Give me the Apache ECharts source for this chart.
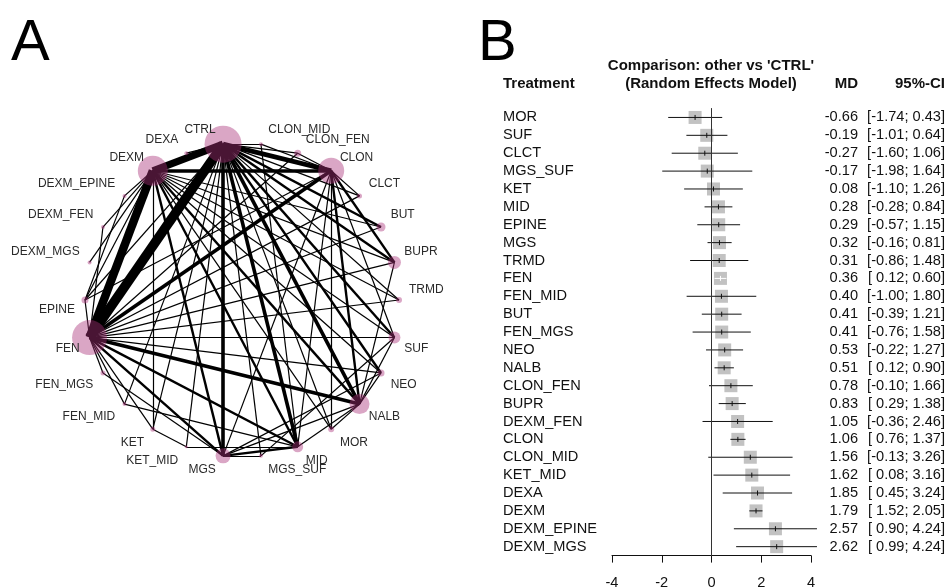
<!DOCTYPE html>
<html>
<head>
<meta charset="utf-8">
<script src="https://cdn.jsdelivr.net/npm/echarts@6/dist/echarts.min.js"></script>
<style>
  html, body { margin: 0; padding: 0; background: #fff; }
  #main { width: 948px; height: 588px; }
</style>
</head>
<body>
<div id="main"></div>
<script>
// network (panel A): nodes in circle order, clockwise starting at CTRL
var nodes = ['CTRL', 'CLON_MID', 'CLON_FEN', 'CLON', 'CLCT', 'BUT', 'BUPR', 'TRMD', 'SUF', 'NEO',
  'NALB', 'MOR', 'MID', 'MGS_SUF', 'MGS', 'KET_MID', 'KET', 'FEN_MID', 'FEN_MGS', 'FEN',
  'EPINE', 'DEXM_MGS', 'DEXM_FEN', 'DEXM_EPINE', 'DEXM', 'DEXA'];
// relative number of patients per treatment (circle area)
var nodePatients = [1370, 16, 49, 676, 25, 81, 169, 36, 144, 49,
  400, 36, 121, 16, 225, 9, 25, 16, 25, 1225,
  49, 16, 16, 16, 900, 16];
// direct comparisons: [a, b, number of studies]
var edges = [
  ['CTRL', 'FEN', 8], ['CTRL', 'DEXM', 6], ['CTRL', 'CLON', 4], ['CTRL', 'MGS', 3],
  ['CTRL', 'NALB', 3], ['CTRL', 'MID', 3], ['CTRL', 'DEXA', 1], ['CTRL', 'CLON_FEN', 1],
  ['CTRL', 'CLON_MID', 1], ['CTRL', 'CLCT', 1], ['CTRL', 'BUT', 2], ['CTRL', 'BUPR', 2],
  ['CTRL', 'TRMD', 1], ['CTRL', 'SUF', 2], ['CTRL', 'NEO', 2], ['CTRL', 'MOR', 1],
  ['CTRL', 'KET', 1], ['CTRL', 'KET_MID', 1], ['CTRL', 'FEN_MID', 1], ['CTRL', 'EPINE', 1],
  ['CTRL', 'MGS_SUF', 1],
  ['DEXM', 'FEN', 7], ['DEXM', 'CLON', 3], ['DEXM', 'DEXM_EPINE', 1], ['DEXM', 'DEXM_FEN', 1],
  ['DEXM', 'DEXM_MGS', 1], ['DEXM', 'EPINE', 1], ['DEXM', 'NALB', 2], ['DEXM', 'MID', 2],
  ['DEXM', 'MGS', 2], ['DEXM', 'BUT', 1], ['DEXM', 'SUF', 1], ['DEXM', 'BUPR', 1],
  ['DEXM', 'KET', 1], ['DEXM', 'NEO', 1], ['DEXM', 'TRMD', 1], ['DEXM', 'MOR', 1],
  ['CLON', 'FEN', 3], ['CLON', 'CLON_MID', 1], ['CLON', 'CLON_FEN', 1], ['CLON', 'BUPR', 2],
  ['CLON', 'MOR', 1], ['CLON', 'NALB', 2], ['CLON', 'MID', 1], ['CLON', 'SUF', 1],
  ['CLON', 'MGS', 1], ['CLON', 'CLCT', 1],
  ['FEN', 'NALB', 3], ['FEN', 'MID', 2], ['FEN', 'MGS', 2], ['FEN', 'FEN_MGS', 1],
  ['FEN', 'FEN_MID', 1], ['FEN', 'KET', 1], ['FEN', 'EPINE', 1], ['FEN', 'DEXM_FEN', 1],
  ['FEN', 'BUT', 1], ['FEN', 'BUPR', 1], ['FEN', 'TRMD', 1], ['FEN', 'SUF', 1],
  ['FEN', 'NEO', 1], ['FEN', 'CLCT', 1], ['FEN', 'CLON_FEN', 1],
  ['NALB', 'MID', 1], ['NALB', 'MGS', 1], ['NALB', 'NEO', 1], ['NALB', 'SUF', 1],
  ['NALB', 'MOR', 1], ['NALB', 'BUPR', 1],
  ['MGS', 'MID', 2], ['MGS', 'MGS_SUF', 1], ['MGS', 'NEO', 1], ['MGS', 'FEN_MGS', 1],
  ['MID', 'KET_MID', 1], ['MID', 'FEN_MID', 1], ['MID', 'CLON_MID', 1],
  ['KET', 'KET_MID', 1], ['EPINE', 'DEXM_EPINE', 1], ['EPINE', 'CLON', 1], ['SUF', 'MGS_SUF', 1]
];

// forest plot (panel B)
var treatments = ['MOR', 'SUF', 'CLCT', 'MGS_SUF', 'KET', 'MID', 'EPINE', 'MGS', 'TRMD', 'FEN',
  'FEN_MID', 'BUT', 'FEN_MGS', 'NEO', 'NALB', 'CLON_FEN', 'BUPR', 'DEXM_FEN', 'CLON', 'CLON_MID',
  'KET_MID', 'DEXA', 'DEXM', 'DEXM_EPINE', 'DEXM_MGS'];
var md = [-0.66, -0.19, -0.27, -0.17, 0.08, 0.28, 0.29, 0.32, 0.31, 0.36,
  0.40, 0.41, 0.41, 0.53, 0.51, 0.78, 0.83, 1.05, 1.06, 1.56,
  1.62, 1.85, 1.79, 2.57, 2.62];
var lower = [-1.74, -1.01, -1.60, -1.98, -1.10, -0.28, -0.57, -0.16, -0.86, 0.12,
  -1.00, -0.39, -0.76, -0.22, 0.12, -0.10, 0.29, -0.36, 0.76, -0.13,
  0.08, 0.45, 1.52, 0.90, 0.99];
var upper = [0.43, 0.64, 1.06, 1.64, 1.26, 0.84, 1.15, 0.81, 1.48, 0.60,
  1.80, 1.21, 1.58, 1.27, 0.90, 1.66, 1.38, 2.46, 1.37, 3.26,
  3.16, 3.24, 2.05, 4.24, 4.24];

var FONT = 'Liberation Sans, Arial, sans-serif';
var ROW_FS = 14.6;
var HEAD = 'bold 15px ' + FONT;
var step = 360 / nodes.length;

var nodeData = nodes.map(function (name, i) {
  var a = (i - 0.5) * step;          // degrees clockwise from 12 o'clock
  var rad = a * Math.PI / 180;
  var right = Math.sin(rad) > 0;
  var up = a < 90.5 || a > 270.5;
  var dx = (7 + 3 * Math.abs(Math.sin(rad))) * (right ? 1 : -1);
  var dy = (10 + 4 * Math.abs(Math.cos(rad))) * (up ? -1 : 1);
  return {
    name: name,
    value: [1, i],
    symbolSize: Math.sqrt(nodePatients[i]),
    label: { offset: [dx, dy], align: right ? 'left' : 'right' }
  };
});

var linkData = edges.map(function (e) {
  return { source: e[0], target: e[1], lineStyle: { width: 1.2 * e[2] } };
});

function ciText(i) {
  var lo = lower[i] < 0 ? lower[i].toFixed(2) : ' ' + lower[i].toFixed(2);
  return '[' + lo + '; ' + upper[i].toFixed(2) + ']';
}

var chart = echarts.init(document.getElementById('main'));
chart.setOption({
  animation: false,
  backgroundColor: '#fff',
  textStyle: { fontFamily: FONT },
  graphic: [
    { type: 'text', x: 11, y: 44, style: { text: 'A', font: '58px ' + FONT, fill: '#000', verticalAlign: 'middle' } },
    { type: 'text', x: 478, y: 44, style: { text: 'B', font: '58px ' + FONT, fill: '#000', verticalAlign: 'middle' } },
    { type: 'text', x: 503, y: 84, style: { text: 'Treatment', font: HEAD, fill: '#111', verticalAlign: 'middle' } },
    { type: 'text', x: 711, y: 66, style: { text: "Comparison: other vs 'CTRL'", font: HEAD, fill: '#111', align: 'center', verticalAlign: 'middle' } },
    { type: 'text', x: 711, y: 84, style: { text: '(Random Effects Model)', font: HEAD, fill: '#111', align: 'center', verticalAlign: 'middle' } },
    { type: 'text', x: 858, y: 84, style: { text: 'MD', font: HEAD, fill: '#111', align: 'right', verticalAlign: 'middle' } },
    { type: 'text', x: 945, y: 84, style: { text: '95%-CI', font: HEAD, fill: '#111', align: 'right', verticalAlign: 'middle' } }
  ],
  polar: { center: [242, 300], radius: [0, 157] },
  angleAxis: { type: 'value', min: 0, max: nodes.length, startAngle: 90 + step / 2, clockwise: true, show: false },
  radiusAxis: { type: 'value', min: 0, max: 1, show: false },
  grid: { left: 612, right: 137, top: 108.5, bottom: 32.4, outerBoundsMode: 'none', containLabel: false },
  xAxis: {
    type: 'value', min: -4, max: 4, interval: 2,
    axisLine: { show: true, onZero: false, lineStyle: { color: '#111', width: 1 } },
    axisTick: { show: true, length: 7, lineStyle: { color: '#111' } },
    axisLabel: { fontSize: ROW_FS, color: '#111', margin: 20 },
    splitLine: { show: false }
  },
  yAxis: [
    {
      type: 'category', data: treatments, inverse: true, z: 5,
      axisLine: { show: true, onZero: true, lineStyle: { color: '#333', width: 1 } },
      axisTick: { show: false }, axisLabel: { show: false }, splitLine: { show: false }
    },
    {
      type: 'category', data: treatments, inverse: true, position: 'left',
      axisLine: { show: false, onZero: false }, axisTick: { show: false },
      axisLabel: { interval: 0, margin: 109, align: 'left', fontSize: ROW_FS, color: '#111' }
    },
    {
      type: 'category', data: treatments, inverse: true, position: 'right',
      axisLine: { show: false, onZero: false }, axisTick: { show: false },
      axisLabel: {
        interval: 0, margin: 47, align: 'right', fontSize: ROW_FS, color: '#111',
        formatter: function (v, i) { return md[i].toFixed(2); }
      }
    },
    {
      type: 'category', data: treatments, inverse: true, position: 'right',
      axisLine: { show: false, onZero: false }, axisTick: { show: false },
      axisLabel: {
        interval: 0, margin: 134, align: 'right', fontSize: ROW_FS, color: '#111',
        formatter: function (v, i) { return ciText(i); }
      }
    }
  ],
  series: [
    {
      type: 'graph',
      coordinateSystem: 'polar',
      layout: 'none',
      silent: true,
      emphasis: { disabled: true },
      symbol: 'circle',
      data: nodeData,
      links: linkData,
      itemStyle: { color: 'rgba(170, 48, 120, 0.43)' },
      lineStyle: { color: '#000', opacity: 1, curveness: 0 },
      label: {
        show: true, position: ['50%', '50%'], verticalAlign: 'middle',
        fontSize: 12, color: '#2a2a2a'
      }
    },
    {
      type: 'custom',
      xAxisIndex: 0,
      yAxisIndex: 0,
      clip: false,
      silent: true,
      data: treatments.map(function (t, i) { return [md[i], i, lower[i], upper[i]]; }),
      encode: { x: 0, y: 1 },
      renderItem: function (params, api) {
        var c = api.coord([api.value(0), api.value(1)]);
        var a = api.coord([api.value(2), api.value(1)]);
        var b = api.coord([api.value(3), api.value(1)]);
        var s = 13;
        var col = (b[0] - a[0]) < s ? '#fff' : '#111';
        return {
          type: 'group',
          children: [
            { type: 'rect', shape: { x: c[0] - s / 2, y: c[1] - s / 2, width: s, height: s }, style: { fill: '#c2c2c2' } },
            { type: 'line', shape: { x1: a[0], y1: c[1], x2: b[0], y2: c[1] }, style: { stroke: col, lineWidth: 1 } },
            { type: 'line', shape: { x1: c[0], y1: c[1] - 2.5, x2: c[0], y2: c[1] + 2.5 }, style: { stroke: col, lineWidth: 1 } }
          ]
        };
      }
    }
  ]
});
</script>
</body>
</html>
